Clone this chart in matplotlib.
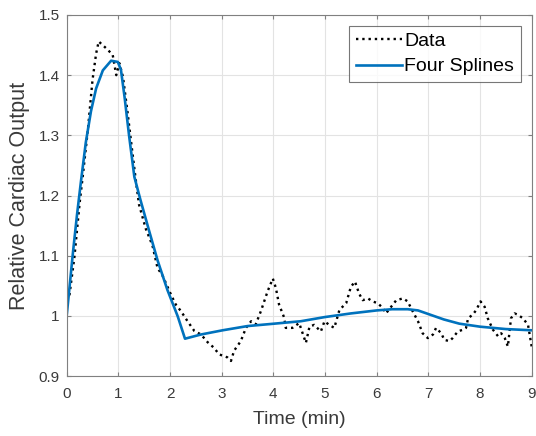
import matplotlib
matplotlib.use("Agg")
import matplotlib.pyplot as plt

data_t = [0.00, 0.05, 0.15, 0.25, 0.31, 0.41, 0.50, 0.57, 0.62, 0.76, 0.89, 0.96,
          1.02, 1.09, 1.18, 1.25, 1.33, 1.40, 1.53, 1.66, 1.76, 1.85, 2.02, 2.11,
          2.21, 2.34, 2.47, 2.60, 2.73, 2.85, 2.95, 3.11, 3.18, 3.24, 3.37, 3.47,
          3.57, 3.66, 3.76, 3.89, 3.99, 4.05, 4.11, 4.21, 4.24, 4.37, 4.50, 4.63,
          4.70, 4.79, 4.92, 4.99, 5.08, 5.18, 5.28, 5.41, 5.50, 5.58, 5.66, 5.73,
          5.83, 5.92, 6.02, 6.12, 6.18, 6.28, 6.38, 6.51, 6.60, 6.70, 6.80, 6.89,
          6.99, 7.09, 7.15, 7.25, 7.31, 7.41, 7.47, 7.57, 7.67, 7.73, 7.77, 7.86,
          7.93, 8.01, 8.09, 8.15, 8.25, 8.35, 8.41, 8.48, 8.54, 8.60, 8.67, 8.73,
          8.83, 8.93, 9.00]
data_v = [1.025, 1.032, 1.098, 1.187, 1.231, 1.309, 1.392, 1.436, 1.456, 1.445, 1.434, 1.400,
          1.420, 1.397, 1.337, 1.287, 1.231, 1.185, 1.145, 1.117, 1.079, 1.068, 1.035, 1.019,
          1.008, 0.991, 0.975, 0.969, 0.956, 0.947, 0.936, 0.931, 0.925, 0.942, 0.958, 0.980,
          0.991, 0.986, 1.008, 1.041, 1.062, 1.046, 1.019, 0.997, 0.980, 0.980, 0.988, 0.955,
          0.982, 0.985, 0.974, 0.991, 0.985, 0.980, 1.010, 1.021, 1.048, 1.057, 1.037, 1.026,
          1.029, 1.024, 1.021, 1.013, 1.004, 1.015, 1.026, 1.029, 1.024, 1.007, 0.991, 0.971,
          0.963, 0.969, 0.980, 0.971, 0.960, 0.958, 0.963, 0.974, 0.977, 0.980, 0.996, 1.002,
          1.010, 1.024, 1.015, 0.996, 0.977, 0.966, 0.971, 0.963, 0.949, 0.996, 1.004, 1.002,
          0.996, 0.985, 0.949]

# four-spline fit
fit_t = [0.00, 0.06, 0.12, 0.20, 0.28, 0.37, 0.47, 0.57, 0.70, 0.86, 0.99, 1.05,
         1.12, 1.21, 1.31, 1.43, 1.60, 1.76, 1.95, 2.15, 2.29, 2.60, 3.02, 3.50,
         4.02, 4.53, 5.00, 5.50, 6.00, 6.30, 6.60, 6.80, 7.00, 7.30, 7.60, 8.00,
         8.50, 9.00]
fit_v = [1.000, 1.052, 1.104, 1.168, 1.226, 1.288, 1.340, 1.378, 1.408, 1.424, 1.422, 1.409,
         1.364, 1.298, 1.231, 1.192, 1.140, 1.092, 1.043, 0.999, 0.962, 0.969, 0.976, 0.983,
         0.987, 0.991, 0.998, 1.004, 1.009, 1.011, 1.011, 1.009, 1.003, 0.994, 0.987, 0.982,
         0.978, 0.976]

plt.rcParams['font.family'] = ['Liberation Sans', 'DejaVu Sans']

fig = plt.figure(figsize=(5.36, 4.36), dpi=100)
ax = fig.add_axes([0.1244, 0.1376, 0.8675, 0.828])

ax.plot(data_t, data_v, color='black', linestyle=':', linewidth=1.7, label='Data')
ax.plot(fit_t, fit_v, color='#0072BD', linewidth=1.9, label='Four Splines')

ax.set_xlim(0, 9)
ax.set_ylim(0.9, 1.5)
ax.set_xticks(range(10))
ax.set_yticks([0.9, 1.0, 1.1, 1.2, 1.3, 1.4, 1.5])
ax.set_yticklabels(['0.9', '1', '1.1', '1.2', '1.3', '1.4', '1.5'])
ax.grid(True, color='#e3e3e3', linewidth=0.8)
ax.set_axisbelow(True)
for s in ax.spines.values():
    s.set_color('#808080')
ax.tick_params(direction='in', colors='#808080', labelcolor='#3a3a3a',
               labelsize=11, top=True, right=True, length=3)
ax.tick_params(axis='x', pad=8)
ax.tick_params(axis='y', pad=5)
ax.set_xlabel('Time (min)', fontsize=14, color='#3a3a3a', labelpad=7)
ax.set_ylabel('Relative Cardiac Output', fontsize=15.5, color='#3a3a3a', labelpad=6)

leg = ax.legend(loc='upper right', fontsize=14, frameon=True, fancybox=False,
                edgecolor='#555555', handlelength=2.4, handletextpad=0.1,
                borderpad=0.35, labelspacing=0.4, borderaxespad=0.55)
leg.get_frame().set_linewidth(0.8)

fig.savefig('out.png', dpi=100)
